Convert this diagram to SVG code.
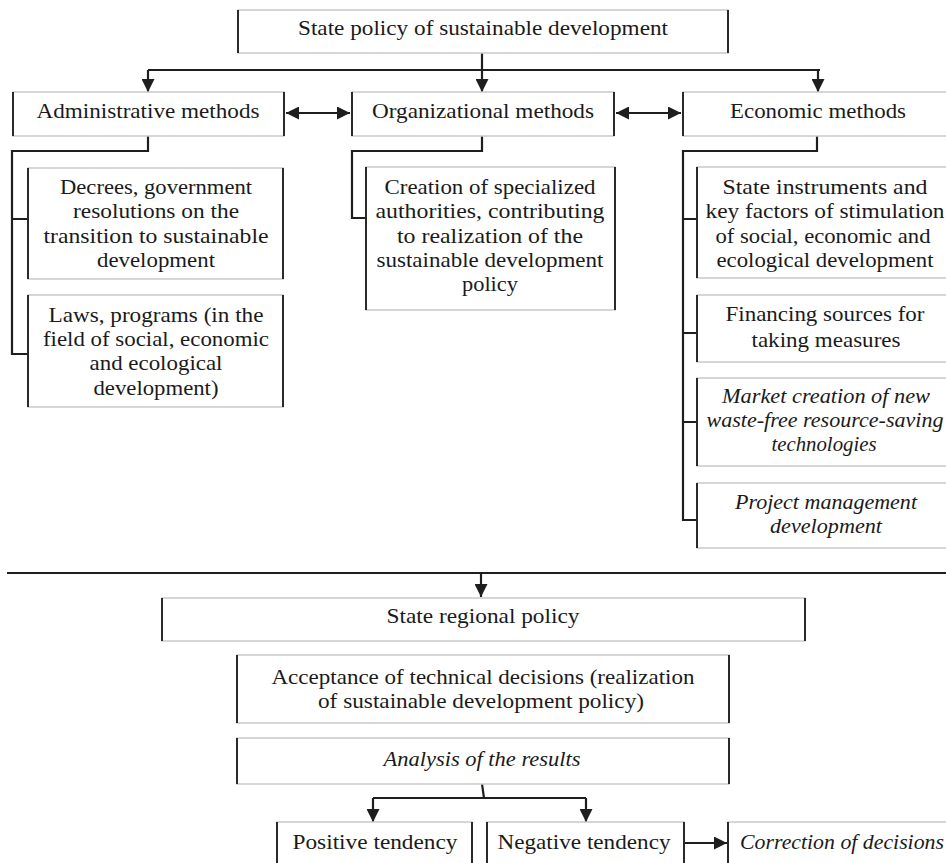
<svg xmlns="http://www.w3.org/2000/svg" width="946" height="863" viewBox="0 0 946 863">
  <defs>
    <style>
      .box { fill: #ffffff; stroke: #c9c9c9; stroke-width: 1.5; }
      .edge { fill: none; stroke: #2a2a2a; stroke-width: 2; }
      .wire { fill: none; stroke: #1e1e1e; stroke-width: 2.2; }
      .label { font-size: 22px; fill: #1a1a1a; text-anchor: middle; }
      .it { font-style: italic; }
    </style>
    <marker id="head" viewBox="0 0 10 10" refX="10" refY="5" markerWidth="13" markerHeight="13" markerUnits="userSpaceOnUse" orient="auto-start-reverse">
      <path d="M0,0 L10,5 L0,10 z" fill="#1e1e1e"/>
    </marker>
  </defs>

  <rect width="946" height="863" fill="#ffffff"/>

  <!-- connectors -->
  <g id="connectors">
    <path class="wire" d="M482,53 V70 M148,70 H820"/>
    <path class="wire" d="M148,70 V92" marker-end="url(#head)"/>
    <path class="wire" d="M482,70 V92" marker-end="url(#head)"/>
    <path class="wire" d="M818,70 V92" marker-end="url(#head)"/>
    <path class="wire" d="M286,113 H350" marker-start="url(#head)" marker-end="url(#head)"/>
    <path class="wire" d="M616,113 H681" marker-start="url(#head)" marker-end="url(#head)"/>
    <!-- administrative branches -->
    <path class="wire" d="M148,136 V151 H12 V354 H28 M12,219 H28"/>
    <!-- organizational branch -->
    <path class="wire" d="M482,136 V151 H352 V218 H366"/>
    <!-- economic branches -->
    <path class="wire" d="M817,136 V151 H683 V520 H697 M683,219 H697 M683,333 H697 M683,422 H697"/>
    <!-- separator and regional policy -->
    <path class="wire" d="M7,573 H946"/>
    <path class="wire" d="M481,573 V597" marker-end="url(#head)"/>
    <!-- analysis outcomes -->
    <path class="wire" d="M482,784 L484,798 M373,798 H586"/>
    <path class="wire" d="M373,798 V822" marker-end="url(#head)"/>
    <path class="wire" d="M586,798 V822" marker-end="url(#head)"/>
    <path class="wire" d="M684,843 H727" marker-end="url(#head)"/>
  </g>

  <g font-family="Liberation Serif">
  <g id="state-policy">
    <rect class="box" x="238" y="10" width="490" height="43"/>
    <path class="edge" d="M238,10 V53 M728,10 V53"/>
    <text class="label" x="483" y="35" textLength="370" lengthAdjust="spacingAndGlyphs">State policy of sustainable development</text>
  </g>

  <g id="administrative">
    <rect class="box" x="13" y="92" width="271" height="44"/>
    <path class="edge" d="M13,92 V136 M284,92 V136"/>
    <text class="label" x="148" y="118" textLength="223" lengthAdjust="spacingAndGlyphs">Administrative methods</text>
  </g>

  <g id="organizational">
    <rect class="box" x="352" y="92" width="262" height="44"/>
    <path class="edge" d="M352,92 V136 M614,92 V136"/>
    <text class="label" x="483" y="118" textLength="222" lengthAdjust="spacingAndGlyphs">Organizational methods</text>
  </g>

  <g id="economic">
    <rect class="box" x="683" y="92" width="270" height="44"/>
    <path class="edge" d="M683,92 V136"/>
    <text class="label" x="818" y="118" textLength="176" lengthAdjust="spacingAndGlyphs">Economic methods</text>
  </g>

  <g id="decrees">
    <rect class="box" x="28" y="168" width="255" height="111"/>
    <path class="edge" d="M28,168 V279 M283,168 V279"/>
    <text class="label" x="156" y="194" textLength="192" lengthAdjust="spacingAndGlyphs">Decrees, government</text>
    <text class="label" x="156" y="218" textLength="166" lengthAdjust="spacingAndGlyphs">resolutions on the</text>
    <text class="label" x="156" y="243" textLength="225" lengthAdjust="spacingAndGlyphs">transition to sustainable</text>
    <text class="label" x="156" y="267" textLength="118" lengthAdjust="spacingAndGlyphs">development</text>
  </g>

  <g id="laws">
    <rect class="box" x="28" y="295" width="255" height="112"/>
    <path class="edge" d="M28,295 V407 M283,295 V407"/>
    <text class="label" x="156" y="322" textLength="215" lengthAdjust="spacingAndGlyphs">Laws, programs (in the</text>
    <text class="label" x="156" y="346" textLength="226" lengthAdjust="spacingAndGlyphs">field of social, economic</text>
    <text class="label" x="156" y="370" textLength="133" lengthAdjust="spacingAndGlyphs">and ecological</text>
    <text class="label" x="156" y="395" textLength="125" lengthAdjust="spacingAndGlyphs">development)</text>
  </g>

  <g id="authorities">
    <rect class="box" x="366" y="167" width="249" height="143"/>
    <path class="edge" d="M366,167 V310 M615,167 V310"/>
    <text class="label" x="490" y="194" textLength="211" lengthAdjust="spacingAndGlyphs">Creation of specialized</text>
    <text class="label" x="490" y="218" textLength="229" lengthAdjust="spacingAndGlyphs">authorities, contributing</text>
    <text class="label" x="490" y="243" textLength="186" lengthAdjust="spacingAndGlyphs">to realization of the</text>
    <text class="label" x="490" y="267" textLength="227" lengthAdjust="spacingAndGlyphs">sustainable development</text>
    <text class="label" x="490" y="291" textLength="56" lengthAdjust="spacingAndGlyphs">policy</text>
  </g>

  <g id="instruments">
    <rect class="box" x="697" y="167" width="256" height="111"/>
    <path class="edge" d="M697,167 V278"/>
    <text class="label" x="825" y="194" textLength="205" lengthAdjust="spacingAndGlyphs">State instruments and</text>
    <text class="label" x="825" y="218" textLength="239" lengthAdjust="spacingAndGlyphs">key factors of stimulation</text>
    <text class="label" x="823" y="243" textLength="215" lengthAdjust="spacingAndGlyphs">of social, economic and</text>
    <text class="label" x="825" y="267" textLength="217" lengthAdjust="spacingAndGlyphs">ecological development</text>
  </g>

  <g id="financing">
    <rect class="box" x="697" y="295" width="256" height="67"/>
    <path class="edge" d="M697,295 V362"/>
    <text class="label" x="825" y="321" textLength="199" lengthAdjust="spacingAndGlyphs">Financing sources for</text>
    <text class="label" x="826" y="347" textLength="149" lengthAdjust="spacingAndGlyphs">taking measures</text>
  </g>

  <g id="market">
    <rect class="box" x="697" y="378" width="256" height="88"/>
    <path class="edge" d="M697,378 V466"/>
    <text class="label it" x="826" y="403" textLength="208" lengthAdjust="spacingAndGlyphs">Market creation of new</text>
    <text class="label it" x="825" y="427" textLength="237" lengthAdjust="spacingAndGlyphs">waste-free resource-saving</text>
    <text class="label it" x="824" y="451" textLength="105" lengthAdjust="spacingAndGlyphs">technologies</text>
  </g>

  <g id="project">
    <rect class="box" x="697" y="483" width="256" height="65"/>
    <path class="edge" d="M697,483 V548"/>
    <text class="label it" x="826" y="509" textLength="182" lengthAdjust="spacingAndGlyphs">Project management</text>
    <text class="label it" x="826" y="533" textLength="112" lengthAdjust="spacingAndGlyphs">development</text>
  </g>

  <g id="regional">
    <rect class="box" x="162" y="598" width="643" height="43"/>
    <path class="edge" d="M162,598 V641 M805,598 V641"/>
    <text class="label" x="483" y="623" textLength="193" lengthAdjust="spacingAndGlyphs">State regional policy</text>
  </g>

  <g id="decisions">
    <rect class="box" x="237" y="655" width="492" height="68"/>
    <path class="edge" d="M237,655 V723 M729,655 V723"/>
    <text class="label" x="483" y="684" textLength="423" lengthAdjust="spacingAndGlyphs">Acceptance of technical decisions (realization</text>
    <text class="label" x="481" y="708" textLength="326" lengthAdjust="spacingAndGlyphs">of sustainable development policy)</text>
  </g>

  <g id="analysis">
    <rect class="box" x="237" y="738" width="492" height="46"/>
    <path class="edge" d="M237,738 V784 M729,738 V784"/>
    <text class="label it" x="482" y="766" textLength="197" lengthAdjust="spacingAndGlyphs">Analysis of the results</text>
  </g>

  <g id="positive">
    <rect class="box" x="277" y="822" width="195" height="50"/>
    <path class="edge" d="M277,822 V872 M472,822 V872"/>
    <text class="label" x="375" y="849" textLength="165" lengthAdjust="spacingAndGlyphs">Positive tendency</text>
  </g>

  <g id="negative">
    <rect class="box" x="487" y="822" width="197" height="50"/>
    <path class="edge" d="M487,822 V872 M684,822 V872"/>
    <text class="label" x="584" y="849" textLength="173" lengthAdjust="spacingAndGlyphs">Negative tendency</text>
  </g>

  <g id="correction">
    <rect class="box" x="728" y="822" width="225" height="50"/>
    <path class="edge" d="M728,822 V872"/>
    <text class="label it" x="842" y="849" textLength="204" lengthAdjust="spacingAndGlyphs">Correction of decisions</text>
  </g>
  </g>
</svg>
